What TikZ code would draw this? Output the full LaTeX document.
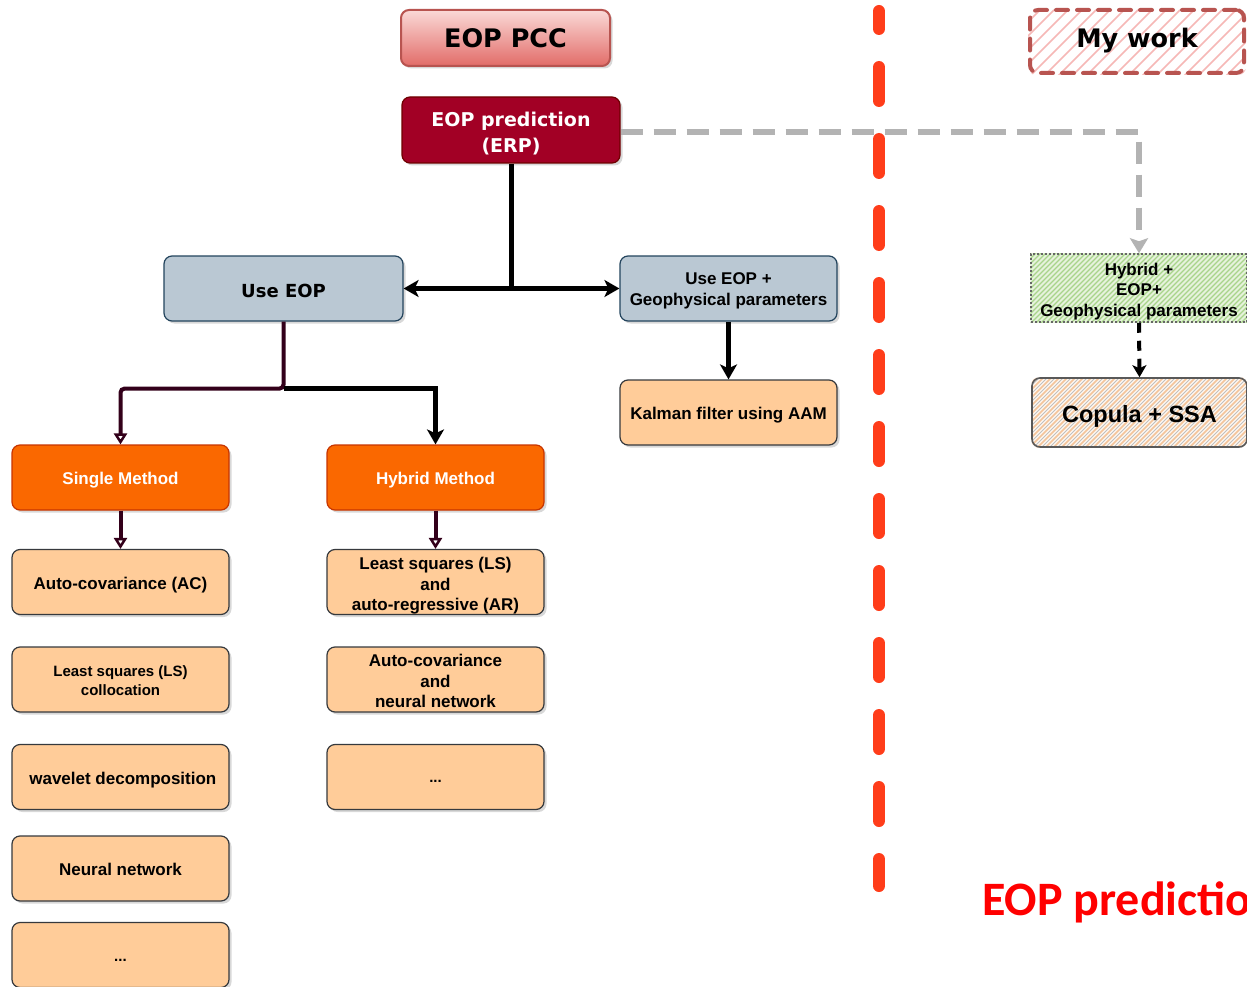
\documentclass[tikz,border=0pt]{standalone}
\usepackage{fontspec}
\setmainfont{Liberation Sans}
\newfontfamily\dvs{DejaVu Sans}
\newfontfamily\carl{Carlito}
\usetikzlibrary{arrows.meta,shadows,backgrounds,calc}
\definecolor{erpred}{HTML}{A20025}
\definecolor{erpborder}{HTML}{6F0000}
\definecolor{bluegray}{HTML}{BAC8D3}
\definecolor{blueborder}{HTML}{23445D}
\definecolor{orangem}{HTML}{FA6800}
\definecolor{orangeborder}{HTML}{C73500}
\definecolor{peachc}{HTML}{FFCC99}
\definecolor{peachborder}{HTML}{36393D}
\definecolor{purplec}{HTML}{33001A}
\definecolor{redsep}{HTML}{FF3D1A}
\definecolor{graydash}{HTML}{B3B3B3}
\definecolor{pccborder}{HTML}{B85450}
\definecolor{pcctop}{HTML}{FAD9D7}
\definecolor{pccbot}{HTML}{E26C68}
\definecolor{hatchpink}{HTML}{F6B8B6}
\definecolor{greenfill}{HTML}{E6F2DC}
\definecolor{greenhatch}{HTML}{A8D48A}
\definecolor{orangehatch}{HTML}{F4C49A}
% box node (shape only) plus a text node shifted down by #1 pt
\newcommand{\mybox}[5][3]{%
  \node[#3] (#2) at #4 {};
  \node[#3txt, yshift=-#1pt] (#2-t) at (#2.center) {#5};}
\begin{document}
\begin{tikzpicture}[x=1pt,y=-1pt,
  shad/.style={drop shadow={shadow xshift=2.5pt,shadow yshift=-2.5pt,opacity=0.3}},
  txtbase/.style={inner sep=0pt, align=center},
  box/.style={rounded corners=8pt, minimum width=217pt, minimum height=65pt,
    inner sep=0pt, line width=1.2pt, shad},
  peach/.style={box, fill=peachc, draw=peachborder},
  peachtxt/.style={txtbase, font=\bfseries\fontsize{17}{20.5}\selectfont},
  peachsmall/.style={peach},
  peachsmalltxt/.style={txtbase, font=\bfseries\fontsize{15}{19.5}\selectfont},
  orangebox/.style={box, fill=orangem, draw=orangeborder},
  orangeboxtxt/.style={txtbase, text=white, font=\bfseries\fontsize{17}{20.5}\selectfont},
  bluebox/.style={box, fill=bluegray, draw=blueborder},
  blueboxtxt/.style={txtbase, font=\bfseries\fontsize{17}{21.5}\selectfont},
  blueeop/.style={bluebox, minimum width=239pt},
  blueeoptxt/.style={txtbase, font=\dvs\bfseries\fontsize{18}{21}\selectfont},
  erpbox/.style={box, minimum width=218pt, minimum height=66pt, fill=erpred, draw=erpborder},
  erpboxtxt/.style={txtbase, text=white, font=\dvs\bfseries\fontsize{19}{26}\selectfont},
  pccbox/.style={rounded corners=8pt, minimum width=209pt, minimum height=56pt, inner sep=0pt,
    top color=pcctop, bottom color=pccbot, draw=pccborder, line width=2pt, shad},
  pccboxtxt/.style={txtbase, font=\dvs\bfseries\fontsize{25.5}{30}\selectfont},
  mwbox/.style={rounded corners=8pt, minimum width=214pt, minimum height=63pt, inner sep=0pt,
    draw=pccborder, line width=4pt, dash pattern=on 12pt off 9pt, line cap=round},
  mwboxtxt/.style={txtbase, font=\dvs\bfseries\fontsize{25.5}{30}\selectfont},
  hybbox/.style={minimum width=216pt, minimum height=68pt, inner sep=0pt,
    draw=black!60, line width=1.5pt, dash pattern=on 2pt off 2pt},
  hybboxtxt/.style={txtbase, font=\bfseries\fontsize{17}{20.5}\selectfont},
  copbox/.style={rounded corners=8pt, minimum width=215pt, minimum height=69pt, inner sep=0pt,
    draw=black!65, line width=1.6pt},
  copboxtxt/.style={txtbase, font=\bfseries\fontsize{23.5}{28}\selectfont},
  blkarrow/.style={line width=5pt, black,
    -{Stealth[length=15pt,width=17pt,inset=4pt]}},
  blkline/.style={line width=5pt, black},
  purparrow/.style={line width=4pt, purplec,
    -{Triangle[open,length=11pt,width=13pt,line width=2.5pt]}},
]
\useasboundingbox (0,0) rectangle (1247,987);

% header
\mybox[0]{pcc}{pccbox}{(505.5,38)}{EOP PCC}
\mybox[4]{erp}{erpbox}{(511,130)}{EOP prediction\\(ERP)}

\mybox[2]{useeop}{blueeop}{(283.5,288.5)}{Use EOP}
\mybox[2.5]{usegeo}{bluebox}{(728.5,288.5)}{Use EOP +\\Geophysical parameters}
\mybox[3]{kalman}{peach}{(728.5,412.5)}{Kalman filter using AAM}

\mybox[3]{single}{orangebox}{(120.5,477.5)}{Single Method}
\mybox[3]{hybrid}{orangebox}{(435.5,477.5)}{Hybrid Method}

\mybox[3]{ac}{peach}{(120.5,582)}{Auto-covariance (AC)}
\mybox[4]{lsar}{peach}{(435.5,582)}{Least squares (LS)\\and\\auto-regressive (AR)}
\mybox[1]{lsc}{peachsmall}{(120.5,679.5)}{Least squares (LS)\\collocation}
\mybox[1.5]{acnn}{peach}{(435.5,679.5)}{Auto-covariance\\and\\neural network}
\mybox[3]{wav}{peach}{(120.5,777)}{\ wavelet decomposition}
\mybox[4]{dotsb}{peachsmall}{(435.5,777)}{...}
\mybox[1]{nn}{peach}{(120.5,868.5)}{Neural network}
\mybox[5]{dotsa}{peachsmall}{(120.5,955)}{...}

% connectors left part
\coordinate (j1) at (erp.south |- useeop.east);
\draw[blkline] (erp.south) -- (j1);
\draw[blkarrow] (j1) -- (useeop.east);
\draw[blkarrow] (j1) -- (usegeo.west);
\draw[blkarrow] (usegeo.south) -- (kalman.north);

\coordinate (j2) at ($(useeop.south)+(0,67)$);
\draw[purparrow, rounded corners=4pt] (useeop.south) -- (j2) -| (single.north);
\draw[blkarrow] (j2) -| (hybrid.north);
\draw[purparrow] (single.south) -- (ac.north);
\draw[purparrow] (hybrid.south) -- (lsar.north);

% separator
\draw[redsep, line width=12pt, line cap=round, dash pattern=on 34pt off 38pt, dash phase=16pt]
  (879,11) -- (879,886);

% right part
\mybox[-1]{mw}{mwbox}{(1137,41.5)}{My work}
\mybox[3.5]{hyb2}{hybbox}{(1139,288)}{Hybrid +\\EOP+\\Geophysical parameters}
\mybox[4]{copula}{copbox}{(1139.5,412.5)}{Copula + SSA}

\begin{pgfonlayer}{background}
  \fill[white] (0,0) rectangle (1247,987);
  \begin{scope}
    \clip[rounded corners=8pt] (mw.south west) rectangle (mw.north east);
    \foreach \k in {-70,-56,...,230} \draw[hatchpink, line width=1.5pt] (1030+\k,76) -- ++(66,-66);
  \end{scope}
  \begin{scope}
    \clip (hyb2.south west) rectangle (hyb2.north east);
    \fill[greenfill] (hyb2.south west) rectangle (hyb2.north east);
    \foreach \k in {-75,-70,...,230} \draw[greenhatch, line width=1.3pt] (1031+\k,323) -- ++(70,-70);
  \end{scope}
  \begin{scope}
    \clip[rounded corners=8pt] (copula.south west) rectangle (copula.north east);
    \fill[white!85!peachc] (copula.south west) rectangle (copula.north east);
    \foreach \k in {-75,-67,...,230} \draw[orangehatch, line width=1.5pt] (1032+\k,448) -- ++(71,-71);
    \foreach \k in {-71,-63,...,230} \draw[black!25, line width=0.9pt] (1032+\k,448) -- ++(71,-71);
  \end{scope}
\end{pgfonlayer}

\draw[graydash, line width=6pt, dash pattern=on 22pt off 11pt,
  -{Stealth[length=15pt,width=18pt,inset=3pt]}]
  ($(erp.east)+(0,2)$) -- ($(erp.east)+(5,2)$) -| (hyb2.north);
\draw[black, line width=4pt, dash pattern=on 10pt off 8pt,
  -{Stealth[length=12pt,width=14pt,inset=3pt]}] (hyb2.south) -- (copula.north);

\node[anchor=base west, inner sep=0pt, text=red,
  font=\carl\bfseries\fontsize{48}{52}\selectfont] (predtxt) at (982,915) {EOP prediction};
\end{tikzpicture}
\end{document}
